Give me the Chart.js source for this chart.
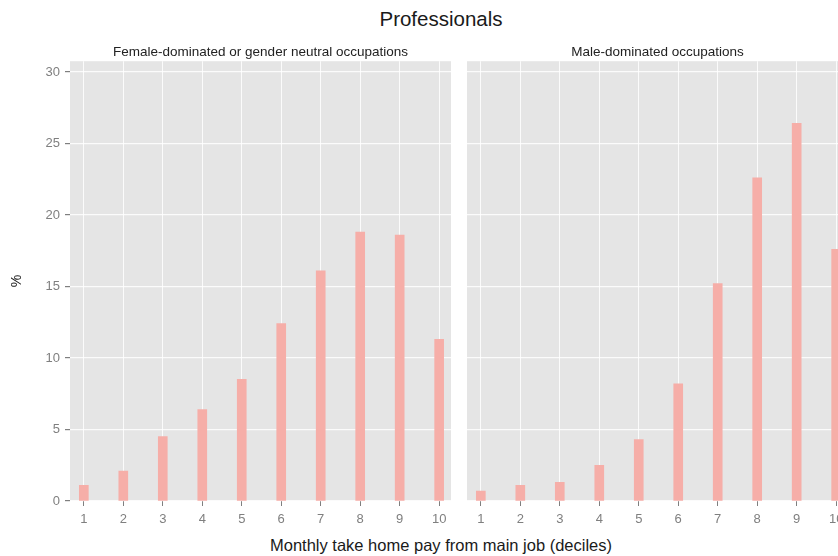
<!DOCTYPE html>
<html>
<head>
<meta charset="utf-8">
<script src="https://cdn.jsdelivr.net/npm/chart.js@4.4.1/dist/chart.umd.min.js"></script>
<style>
  html, body { margin: 0; padding: 0; background: #fff; overflow: hidden; }
  body { width: 838px; height: 556px; position: relative; font-family: "Liberation Sans", Arial, sans-serif; }
  .lbl { position: absolute; white-space: nowrap; transform: translate(-50%, -50%); color: #1a1a1a; }
  #leftWrap { position: absolute; left: 0; top: 40px; }
  #rightWrap { position: absolute; left: 460px; top: 40px; }
</style>
</head>
<body>
<div class="lbl" style="left:441px; top:19px; font-size:20.5px;">Professionals</div>
<div class="lbl" style="left:441px; top:545px; font-size:16.5px;">Monthly take home pay from main job (deciles)</div>

<div id="leftWrap"><canvas id="chartLeft" width="460" height="501"></canvas></div>
<div id="rightWrap"><canvas id="chartRight" width="400" height="501"></canvas></div>

<script>
// -------------------------
// Datos
// -------------------------
const deciles = [1, 2, 3, 4, 5, 6, 7, 8, 9, 10];
const yTicks = [0, 5, 10, 15, 20, 25, 30];

const femaleNeutral = [1.1, 2.1, 4.5, 6.4, 8.5, 12.4, 16.1, 18.8, 18.6, 11.3];
const maleDominated = [0.7, 1.1, 1.3, 2.5, 4.3, 8.2, 15.2, 22.6, 26.4, 17.6];

const panelTitles = ["Female-dominated or gender neutral occupations", "Male-dominated occupations"];

const BAR_COLOR = '#F6AEA8';
const PANEL_BG = '#E5E5E5';
const TICK_GREY = '#7F7F7F';
const GRID = 'rgba(255,255,255,0.85)';

// fondo gris del panel
const panelBg = {
    id: 'panelBg',
    beforeDraw(chart) {
        const a = chart.chartArea;
        const ctx = chart.ctx;
        ctx.save();
        ctx.fillStyle = PANEL_BG;
        ctx.fillRect(a.left, a.top, a.right - a.left, a.bottom - a.top);
        ctx.restore();
    }
};

function crearPanel(canvasId, title, values, showY, padding) {
    const ctx = document.getElementById(canvasId);

    return new Chart(ctx, {
        type: 'bar',
        data: {
            datasets: [{
                data: values.map((v, i) => ({ x: deciles[i], y: v })),
                backgroundColor: BAR_COLOR,
                borderWidth: 0,
                barThickness: 9
            }]
        },
        options: {
            responsive: false,
            animation: false,
            layout: { padding: padding },
            plugins: {
                legend: { display: false },
                tooltip: { enabled: false },
                title: {
                    display: true,
                    text: title,
                    fullSize: false,
                    color: '#222222',
                    font: { family: 'Liberation Sans', size: 13.5, weight: 'normal' },
                    padding: { top: 4, bottom: 1 }
                }
            },
            scales: {
                x: {
                    type: 'linear',
                    offset: false,
                    min: 0.65,
                    max: 10.3,
                    afterBuildTicks: s => { s.ticks = deciles.map(v => ({ value: v })); },
                    afterFit: s => { s.height = 40; },
                    border: { display: false },
                    grid: { offset: false, color: GRID, lineWidth: 1, tickColor: TICK_GREY, tickLength: 5 },
                    ticks: {
                        color: TICK_GREY,
                        padding: 6,
                        maxRotation: 0,
                        font: { family: 'Liberation Sans', size: 13 }
                    }
                },
                y: {
                    min: 0,
                    max: 30.75,
                    afterBuildTicks: s => { s.ticks = yTicks.map(v => ({ value: v })); },
                    afterFit: s => { s.width = showY ? 70 : 0; },
                    border: { display: false },
                    grid: {
                        color: GRID,
                        lineWidth: 1.2,
                        tickColor: TICK_GREY,
                        tickLength: 5,
                        drawTicks: showY
                    },
                    ticks: {
                        display: showY,
                        color: TICK_GREY,
                        padding: 5,
                        font: { family: 'Liberation Sans', size: 13 }
                    },
                    title: {
                        display: showY,
                        text: '%',
                        color: '#1a1a1a',
                        padding: { top: 9, bottom: 0 },
                        font: { family: 'Liberation Sans', size: 14 }
                    }
                }
            }
        },
        plugins: [panelBg]
    });
}

crearPanel('chartLeft', panelTitles[0], femaleNeutral, true, { left: 0, right: 9, top: 0, bottom: 0 });
crearPanel('chartRight', panelTitles[1], maleDominated, false, { left: 7, right: 12, top: 0, bottom: 0 });
</script>
</body>
</html>
